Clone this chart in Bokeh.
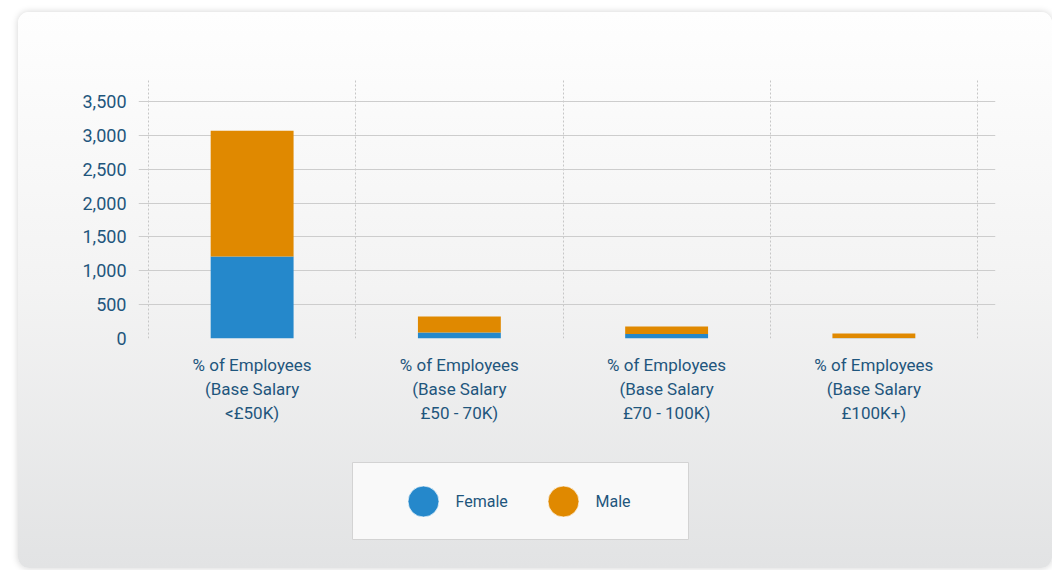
from bokeh.plotting import figure
from bokeh.layouts import column
from bokeh.models import (ColumnDataSource, Range1d, FixedTicker, NumeralTickFormatter)
from bokeh.core.properties import value
from bokeh.embed import file_html
from bokeh.resources import INLINE

# ---- data ----
categories = ["% of Employees\n(Base Salary\n<£50K)",
              "% of Employees\n(Base Salary\n£50 - 70K)",
              "% of Employees\n(Base Salary\n£70 - 100K)",
              "% of Employees\n(Base Salary\n£100K+)"]
female = [1210, 90, 65, 5]
male = [1860, 235, 112, 70]
series = ["Female", "Male"]
colors = ["#2588cb", "#e08900"]
y_ticks = [0, 500, 1000, 1500, 2000, 2500, 3000, 3500]

TEXT = "#1f567d"
FONT = "Roboto"

xpos = [i + 0.5 for i in range(len(categories))]
src = ColumnDataSource(dict(x=xpos, Female=female, Male=male))

# ---------------- main chart ----------------
p = figure(width=1034, height=440, output_backend="svg", toolbar_location=None,
           x_range=Range1d(-0.0483, 4.0869), y_range=Range1d(0, 3840),
           min_border_left=120, min_border_right=57, min_border_top=66,
           min_border_bottom=114)
p.background_fill_alpha = 0
p.border_fill_alpha = 0
p.outline_line_color = None

p.vbar_stack(series, x="x", width=0.4, color=colors, source=src, line_color=None)

p.xaxis.ticker = FixedTicker(ticks=xpos)
p.xaxis.major_label_overrides = {x: c for x, c in zip(xpos, categories)}
p.xaxis.axis_line_color = None
p.xaxis.major_tick_line_color = None
p.xaxis.major_tick_out = 0
p.xaxis.minor_tick_line_color = None
p.xaxis.major_label_text_font = FONT
p.xaxis.major_label_text_font_size = "17px"
p.xaxis.major_label_text_color = TEXT
p.xaxis.major_label_standoff = 16

p.yaxis.ticker = FixedTicker(ticks=y_ticks)
p.yaxis.formatter = NumeralTickFormatter(format="0,0")
p.yaxis.axis_line_color = None
p.yaxis.major_tick_line_color = None
p.yaxis.major_tick_out = 0
p.yaxis.minor_tick_line_color = None
p.yaxis.major_label_text_font = FONT
p.yaxis.major_label_text_font_size = "18px"
p.yaxis.major_label_text_color = TEXT
p.yaxis.major_label_standoff = 12

p.xgrid.ticker = FixedTicker(ticks=[0, 1, 2, 3, 4])
p.xgrid.grid_line_color = "#c6c6c6"
p.xgrid.grid_line_dash = "2 2"
p.ygrid.grid_line_color = "#cdcdcd"

# ---------------- legend box (its frame is the box) ----------------
lsrc = ColumnDataSource(dict(idx=list(range(len(series))), name=series, color=colors,
                             y=[0.5] * len(series)))
lf = figure(width=513, height=78, output_backend="svg", toolbar_location=None,
            x_range=Range1d(-71 / 140, -71 / 140 + 336 / 140), y_range=Range1d(0, 1),
            min_border_left=120, min_border_right=57, min_border_top=0,
            min_border_bottom=0)
lf.margin = (10, 0, 28, 214)
lf.border_fill_alpha = 0
lf.background_fill_color = "#f9f9f9"
lf.outline_line_color = "#d3d3d3"
lf.axis.visible = False
lf.grid.visible = False
lf.scatter(x="idx", y="y", source=lsrc, marker="circle", size=31,
           fill_color="color", line_color="white", line_alpha=0.7, line_width=1)
lf.text(x="idx", y="y", text="name", source=lsrc, x_offset=32,
        text_font=value(FONT), text_font_size="16px", text_color=TEXT,
        text_align="left", text_baseline="middle")

card = column(p, lf)
card.margin = (12, 0, 0, 18)
card.styles = {"background": "linear-gradient(180deg, #fefefe 0%, #f3f3f3 50%, #e2e3e4 100%)",
               "border-radius": "11px",
               "box-shadow": "0 0 7px rgba(0,0,0,0.18)"}

open("out.html", "w").write(file_html(card, INLINE))
